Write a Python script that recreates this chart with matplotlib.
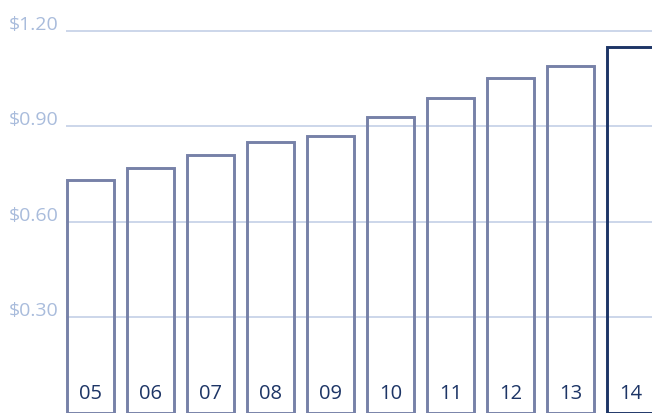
import matplotlib.pyplot as plt

# Data
years = ["05", "06", "07", "08", "09", "10", "11", "12", "13", "14"]
dividends = [0.73, 0.77, 0.81, 0.85, 0.87, 0.93, 0.99, 1.05, 1.09, 1.15]
yticks = [0.30, 0.60, 0.90, 1.20]
ytick_labels = ["$0.30", "$0.60", "$0.90", "$1.20"]

# Colours
GRID = "#c8d3e8"
LABEL = "#a9bcdc"
EDGE = "#7781a8"
HIGHLIGHT = "#1d3566"

plt.rcParams['font.family'] = ['Open Sans', 'DejaVu Sans']

W, H = 652, 413
fig = plt.figure(figsize=(W / 100, H / 100), dpi=100)
left_px = 66
ax = fig.add_axes([left_px / W, 0, 1 - left_px / W, 1])

pitch = 60.0
x0 = 24.3 / pitch
ax.set_xlim(-x0, -x0 + (W - left_px) / pitch)
ax.set_ylim(0, 1.296)

for y in yticks:
    ax.axhline(y, color=GRID, lw=1.3, zorder=0)

xs = list(range(len(years)))
for i, (x, v) in enumerate(zip(xs, dividends)):
    last = i == len(years) - 1
    ax.bar(x, v, width=0.79, facecolor="none",
           edgecolor=HIGHLIGHT if last else EDGE,
           linewidth=2.1, zorder=2, clip_on=False)
    ax.text(x, 0.06, years[i], ha="center", va="center",
            fontsize=14.5, fontweight="medium", color=HIGHLIGHT, zorder=3)

# y labels sit on top of the gridlines, left of the plot area
for y, lab in zip(yticks, ytick_labels):
    ax.annotate(lab, xy=(0, y), xycoords=("axes fraction", "data"),
                xytext=(-7, 1), textcoords="offset pixels",
                ha="right", va="baseline", fontsize=14, color=LABEL,
                annotation_clip=False)

ax.set_axis_off()
fig.savefig("out.png", dpi=100)
